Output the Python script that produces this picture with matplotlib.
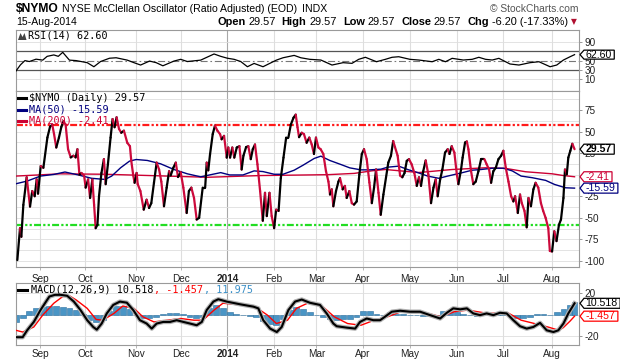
import matplotlib
matplotlib.use("Agg")
import matplotlib.pyplot as plt
import matplotlib.patheffects as pe
import numpy as np
from matplotlib.collections import LineCollection
from matplotlib.patches import Polygon

plt.rcParams['font.family'] = ['Liberation Sans', 'DejaVu Sans']
plt.rcParams['axes.unicode_minus'] = False
plt.rcParams['lines.scale_dashes'] = False

# x = trading day index (0 = 16-Aug-2013 ... 251 = 15-Aug-2014)
month_days = [11, 31, 54, 74, 95, 116, 135, 156, 177, 198, 219, 241]
month_labels = ['Sep', 'Oct', 'Nov', 'Dec', '2014', 'Feb', 'Mar', 'Apr', 'May', 'Jun', 'Jul', 'Aug']

nymo_days = [
    0.6, 1.8, 2.4, 3.3, 4.8, 6.3, 7.3, 8.4, 9.3, 9.9,
    11.1, 12.3, 14.1, 15.3, 16.3, 17.1, 18.1, 19.3, 20.4, 21.3,
    22.3, 23.4, 24.6, 25.8, 26.8, 27.6, 28.5, 29.4, 30.6, 31.3,
    32.4, 33.3, 34.3, 35.1, 35.8, 36.6, 37.3, 38.4, 39.5, 40.3,
    41.3, 42.5, 43.4, 44.3, 45.2, 46.3, 47.3, 48.5, 50.0, 51.2,
    51.8, 52.7, 53.3, 54.2, 54.7, 55.9, 57.4, 58.7, 59.8, 60.8,
    62.0, 63.2, 64.3, 65.3, 66.5, 67.7, 68.8, 69.5, 70.7, 71.8,
    72.8, 74.0, 75.2, 76.7, 77.7, 78.8, 80.0, 81.2, 82.3, 83.9,
    85.0, 85.7, 86.4, 87.2, 88.4, 89.4, 90.5, 91.7, 92.4, 93.5,
    94.7, 95.4, 96.2, 97.2, 98.1, 99.2, 100.4, 101.4, 102.2, 103.4,
    104.4, 105.5, 106.4, 107.4, 108.5, 109.7, 110.9, 111.9, 112.7, 113.9,
    114.9, 116.0, 116.9, 118.0, 119.0, 120.2, 121.4, 122.4, 123.5, 124.7,
    125.7, 126.5, 127.2, 128.4, 129.4, 130.6, 131.8, 132.9, 133.9, 134.8,
    135.9, 136.9, 138.1, 139.3, 140.4, 141.1, 141.9, 142.6, 143.8, 144.9,
    145.6, 146.8, 147.8, 148.6, 149.8, 150.9, 151.9, 153.1, 154.3, 155.4,
    156.4, 157.6, 158.8, 159.9, 160.9, 161.8, 162.9, 163.9, 165.1, 167.3,
    168.5, 169.5, 170.3, 171.5, 172.6, 173.6, 174.6, 175.6, 176.6, 177.8,
    179.0, 180.1, 181.1, 182.0, 183.0, 184.1, 185.3, 186.5, 187.6, 188.6,
    189.5, 190.6, 191.6, 192.8, 194.0, 194.8, 195.8, 197.0, 198.1, 198.8,
    200.0, 200.7, 201.8, 202.6, 203.3, 204.5, 205.5, 206.6, 207.8, 209.0,
    210.5, 211.5, 212.6, 213.5, 214.5, 215.6, 216.8, 218.0, 219.0, 220.1,
    221.3, 222.5, 223.5, 224.3, 225.5, 226.5, 227.3, 228.5, 229.5, 230.3,
    231.4, 232.5, 233.5, 234.7, 235.9, 236.9, 238.0, 239.2, 239.9, 240.9,
    241.9, 242.9, 244.0, 244.9, 246.0, 246.7, 247.5, 248.2, 249.1, 250.0,
    251.0]
nymo_vals = [
    -99, -62, -72, -35, -3, -37, -19, -25, -5.5, -22,
    10, 8, 43, 55.6, 58, 47, 31.5, 43, 55.6, 62,
    58, 29.5, 20, 22, 20, 29.5, 0, 2, -1, -15,
    -5.5, -27, -5.5, -35, -62, -58, -25, 2, 18, -11,
    12, 43, 64.5, 55, 66.5, 53, 48.6, 51, 37, 33,
    16, -1, -9.4, 2, -11, -19, -40.5, -29, -38.6, -33,
    -9.4, 14, 6, -8, -36.6, -15, 4, -1, 8, 14,
    -2.7, 3, -15, -44.4, -19, -15, -27, -52, -50, -15,
    -15, 14, 5, 23.7, 47, 56.8, 51, 47, 41, 45,
    19.8, 31.5, 19.8, 31.5, 19.8, 31.5, 33, 6, 22, 32,
    33, 18, 29.5, 35, 12, -19, -53.4, -21, -48, -21,
    -48, -62, -40.5, -42, -4, 19.8, 43, 43, 58, 66,
    69.6, 55, 43.5, 48.6, 47, 37, 43, 35, 24, 43,
    31.5, 29.5, 24, 4, -8, -23, -17, -36.6, -19, -8,
    -4, -17, -13, -27, -19, -33, -34.7, -31, 0.3, 24,
    29.5, 18, -9, -33, -15, 6, -21, -46.5, -23, 14,
    22, 39, 32, 22, -1, -3, 2, 16, 18, 12,
    2, -13, -3, -13, 4, 16.5, 0.3, -33, -15, -5.5,
    -25, -5.5, 6, 25.6, 29.5, 24, 33, 25.6, 0.3, -11,
    6, 19.8, 37.3, 38.5, 29.5, 4, -11, -8, 4, 18,
    18, 12, 6, -9.4, 4, 8, 18, 22, 27.7, 8,
    -8, -25, -31, -25, -44.4, -23, -33, -42, -61, -27,
    -36.6, -17, -9.4, -15, -33, -42, -50, -62, -88.4, -89,
    -65.6, -77, -58, -52, -27, 6, 0.3, 19.8, 27.7, 35.8,
    29.57]

ma50_days = [0, 5, 11, 17, 22, 28, 34, 40, 43, 47, 51, 54, 59, 65, 71, 77, 83, 87,
             92, 96, 102, 107, 111, 116, 120, 125, 129, 134, 137, 141, 146, 150,
             155, 159, 164, 167, 172, 176, 181, 185, 190, 194, 200, 205, 209, 214,
             219, 223, 227, 232, 238, 242, 247, 251]
ma50_vals = [-10.5, -7.4, -1.6, 0.3, 3.1, -0.3, -4.2, -5.5, -1.6, 8, 15.7, 17.6, 16.5,
             12.6, 6, 1, -2.5, -0.3, 2.4, -0.3, -0.3, 4.4, 3.6, 0.5, 0.5, 5.2, 11,
             18.8, 21.5, 16.5, 11.8, 7.9, 5.6, 5.6, 6.4, 8.7, 9.9, 6, 2, -1.6, -4.2,
             -1.6, 2, 5.2, 6, 7.5, 7.5, 4.4, -1.6, -3.5, -6.6, -11.3, -15.2, -15.59]

ma200_days = [0, 20, 40, 60, 86, 110, 140, 152, 160, 166, 181, 196, 211, 220, 229, 241, 246, 251]
ma200_vals = [-1.6, 1, 0.5, -1, -3, -1, 0, 1.5, 4.5, 6, 2.5, 6, 8, 7.3, 3.4, 1, -1, -2.41]

rsi_days = [0, 2, 4, 6, 9, 12, 14, 17, 19, 21, 24, 27, 32, 35, 38, 42, 45, 50, 53, 56,
            60, 63, 66, 71, 74, 77, 83, 89, 92, 95, 98, 101, 104, 107, 111, 114, 117,
            120, 125, 128, 132, 137, 142, 147, 151, 154, 157, 162, 166, 169, 172, 177,
            181, 187, 190, 193, 196, 201, 205, 208, 211, 214, 217, 222, 226, 231, 235,
            240, 243, 246, 249, 251]
rsi_vals = [28, 41, 50, 48, 53, 51, 59, 62, 59, 67.5, 51, 50, 45.6, 37, 48, 55, 56, 51,
            45.6, 40.6, 49, 45.6, 39, 49, 52.7, 48, 51, 64, 59, 55, 52.7, 48, 37, 44, 37,
            44, 51, 56, 61, 56, 52.7, 51.2, 40.6, 45.6, 44.2, 52.7, 57, 47.6, 52.7, 57,
            58.2, 52.7, 51.2, 47.6, 52.7, 47.6, 54.8, 51.2, 52.7, 57, 52.7, 51.2, 54.8,
            42.8, 40.6, 45.6, 47.6, 37, 40.6, 51.2, 58.2, 62.6]

macd_days = [0, 3, 5, 8, 11, 14, 15, 17.5, 20, 23, 26, 29, 32, 34.7, 36.3, 38.5, 40.8,
             43.7, 46.7, 49.8, 52.7, 55.7, 58.7, 61, 63.2, 66.2, 69.2, 72.2, 75.2, 78.2,
             81.2, 83.5, 85.7, 88.7, 90.9, 94.7, 100.7, 106.7, 108.9, 111.1, 114.2, 117.2,
             119.4, 122.4, 125.4, 128.4, 132.1, 136.6, 139.6, 142.6, 144.1, 148.6, 152.4,
             154.6, 157.6, 160.6, 163.6, 165.8, 168.9, 172.6, 177.1, 181.6, 186.1, 190.6,
             193.6, 196.5, 199.6, 202.6, 205.5, 208.5, 211.5, 214.5, 217.5, 220.5, 223.5,
             226.5, 229.5, 232.5, 235.5, 238.5, 241.5, 243.7, 246, 248.2, 251]
macd_vals = [-21, -21, -14.6, -6.8, 4.2, 13.7, 16.8, 18.4, 18.4, 17.5, 12.1, 4.2, -5.2,
             -11.5, -14, -8.3, 1.1, 9, 12.1, 11.1, 4.2, -5.2, -8.3, -13, -8.3, -6.8, -6.8,
             -5.2, -6.8, -8.3, -9.9, -6.8, 4.2, 12.1, 14.3, 12.1, 9.6, 7.4, 5.8, -5.2, -13,
             -16.2, -11.5, 4.2, 12.1, 14, 11, 9, 1.1, -8.3, -10.8, -12.1, -13, -6.8, -3.6,
             -5.2, -5.2, -2, 2.7, 3.6, 2.7, 2.7, -0.5, -3.6, 1.7, 5.8, 4.9, 5.8, 1.1, -0.5,
             1.1, -0.5, 1.7, 1.1, -5.2, -10.8, -13, -11.5, -7.7, -14.6, -16.2, -14.6, -8.3,
             1.1, 10.518]

signal_days = [0, 3, 8, 12, 17, 21, 24, 27, 32, 36, 39, 44, 48, 53, 57, 62, 68, 74, 80,
               84, 89, 93, 101, 107, 113, 117, 122, 126, 131, 137, 143, 149, 155, 161,
               167, 173, 182, 191, 197, 203, 212, 221, 227, 233, 239, 244, 246, 249, 251]
signal_vals = [-14.6, -16.2, -11.5, -0.5, 10.6, 16.8, 17.5, 13.7, 5.8, -4.5, -5.2, 1.1, 8,
               5.8, -2, -6.8, -5.2, -3.6, -5.2, -5.2, 4.2, 10.6, 9, 8, -0.5, -8.3, -5.2,
               5.8, 10.6, 9, -2, -8.3, -9.9, -5.2, -2, 2.7, 2.7, -2, 2.7, 4.2, 1.1, 1.7,
               -5.2, -8.3, -11.5, -14.6, -12, -6, -1.457]

hist_days = [0, 3, 6, 9, 12, 15, 18, 21, 24, 27, 30, 33, 36, 39, 42, 45, 48, 51, 54, 57,
             60, 63, 66, 69, 72, 75, 78, 81, 84, 87, 90, 93, 96, 99, 102, 105, 108, 111,
             114, 117, 120, 123, 126, 129, 132, 135, 138, 141, 144, 147, 150, 153, 156,
             159, 162, 165, 168, 171, 174, 177, 180, 183, 186, 189, 192, 195, 198, 201,
             204, 207, 210, 213, 216, 219, 222, 225, 228, 231, 234, 237, 240, 243, 246,
             249, 251]
hist_vals = [-7, -3, 3, 6, 7, 8, 8, 7, 6, 4, 1, -5, -7, -5, 3, 8, 8, 5, 0, -3, -3, -2, 1,
             1.5, 1.5, 1, -2, -3, -2, 6, 9, 6, 2, 1, 0, -1, -2, -6, -9, -10, -4, 4, 7, 5,
             2, 0, -2, -4, -5, -4, -4, -2, 3, 3, 1, 0, 2, 1, 1, 0, 0, -1, -1, -2, 3, 3, 2,
             1, 0, -1, 0, 1, 1, 1, -1, -3, -3, -2, 1, 1, 0, 2, 5, 9, 11.975]

W, H = 620, 360
UP, DOWN = '#000000', '#cc0a3c'
NAVY, CRIMSON = '#00007f', '#cc0033'
GRID = '#dedede'
MONO = 'DejaVu Sans Mono'

fig = plt.figure(figsize=(W / 100, H / 100), dpi=100)


def box(x0, y0, x1, y1):
    return [x0 / W, 1 - y1 / H, (x1 - x0) / W, (y1 - y0) / H]


ax_rsi = fig.add_axes(box(16, 30, 579, 91))
ax = fig.add_axes(box(16, 91, 579, 267))
ax_macd = fig.add_axes(box(16, 283, 579, 344.5))

for a in (ax_rsi, ax, ax_macd):
    a.set_xlim(0, 253)
    for s in a.spines.values():
        s.set_color('#9a9a9a')
        s.set_linewidth(0.8)
    a.yaxis.tick_right()
    a.tick_params(axis='y', length=2.5, width=0.6, color='#888888', pad=1.5,
                  labelsize=7.2, labelcolor='#222222')
    a.tick_params(axis='x', length=2, width=0.6, color='#aaaaaa', labelsize=7.2,
                  labelcolor='#222222', pad=3)
    a.set_xticks(month_days)
    for d, lab in zip(month_days, month_labels):
        a.axvline(d, color='#a8a8a8' if lab == '2014' else GRID, lw=0.8, zorder=0)

for a in (ax, ax_macd):
    a.set_xticklabels(month_labels)
    for t in a.get_xticklabels():
        if t.get_text() == '2014':
            t.set_fontweight('bold')
ax_rsi.tick_params(axis='x', labelbottom=False, length=0)
ax_macd.tick_params(axis='x', pad=1.5)

# ---- RSI panel
ax_rsi.set_ylim(-14.4, 114.8)
ax_rsi.set_yticks([10, 30, 50, 90])
for v in (10, 90):
    ax_rsi.axhline(v, color=GRID, lw=0.6, zorder=0)
ax_rsi.axhline(70, color='#555555', lw=0.9, zorder=1)
ax_rsi.axhline(30, color='#555555', lw=0.9, zorder=1)
ax_rsi.axhline(50, color='#777777', lw=0.8, dashes=(5, 2, 1.2, 2), zorder=1)
ax_rsi.plot(rsi_days, rsi_vals, color='black', lw=0.9, zorder=3)

# ---- main panel
ax.set_ylim(-107, 97)
ax.set_yticks([-100, -75, -50, -25, 25, 50, 75])
for v in np.arange(-100, 90, 12.5):
    ax.axhline(v, color=GRID, lw=0.6, zorder=0)
ax.axhline(57.5, color='#ff1a1a', lw=1.6, dashes=(5, 1.6, 1.6, 1.6, 1.6, 1.6), zorder=2)
ax.axhline(-58, color='#22dd22', lw=1.6, dashes=(5, 1.6, 1.6, 1.6, 1.6, 1.6), zorder=2)
ax.plot(ma200_days, ma200_vals, color=CRIMSON, lw=1.0, zorder=3)
ax.plot(ma50_days, ma50_vals, color=NAVY, lw=1.0, zorder=3)
x = np.array(nymo_days)
y = np.array(nymo_vals)
segs = np.stack([np.column_stack([x[:-1], y[:-1]]), np.column_stack([x[1:], y[1:]])], axis=1)
cols = [UP if d >= 0 else DOWN for d in np.diff(y)]
ax.add_collection(LineCollection(segs, colors=cols, linewidths=1.6, capstyle='round',
                                 joinstyle='round', zorder=4))

# ---- MACD panel
ax_macd.set_ylim(-27.8, 29.4)
ax_macd.set_yticks([-20, 20])
for v in (-20, 0, 20):
    ax_macd.axhline(v, color=GRID, lw=0.6, zorder=0)
ax_macd.bar(hist_days, hist_vals, width=2.6, color='#4a95c5', edgecolor='#2a6f9f',
            linewidth=0.4, zorder=2)
ax_macd.plot(signal_days, signal_vals, color='#ff0000', lw=1.0, zorder=3)
ax_macd.plot(macd_days, macd_vals, color='black', lw=1.5, zorder=4,
             path_effects=[pe.Stroke(linewidth=3.2, foreground='#b0b0b0'), pe.Normal()])

# ---- header texts
renderer = fig.canvas.get_renderer()


def run(x0, y0, parts):
    xx = x0
    for s, kw, gap in parts:
        t = fig.text(xx / W, 1 - y0 / H, s, va='center', ha='left', parse_math=False, **kw)
        xx += t.get_window_extent(renderer=renderer).width + gap
    return xx


run(16, 9, [('$NYMO', dict(fontsize=8.7, fontweight='bold'), 3.5),
            ('NYSE McClellan Oscillator (Ratio Adjusted) (EOD)', dict(fontsize=7.6), 4.5),
            ('INDX', dict(fontsize=7.6), 0)])
fig.text(578 / W, 1 - 9 / H, '\u00a9 StockCharts.com', ha='right', va='center',
         fontsize=7.4, color='#555555')
fig.text(16 / W, 1 - 22 / H, '15-Aug-2014', ha='left', va='center', fontsize=7.6)
b = dict(fontsize=7.9, fontweight='bold')
n = dict(fontsize=7.9)
run(217, 22, [('Open', b, 3), ('29.57', n, 6), ('High', b, 3), ('29.57', n, 6),
              ('Low', b, 3), ('29.57', n, 6), ('Close', b, 3), ('29.57', n, 6),
              ('Chg', b, 3), ('-6.20 (-17.33%)', n, 3),
              ('\u25bc', dict(fontsize=5.5, color='#b01030', family='DejaVu Sans'), 0)])

# ---- panel legends
fig.patches.append(Polygon(np.array([[18, 40], [20.5, 33], [22.5, 37], [24.5, 33], [26.5, 40]])
                           / [W, H] * [1, -1] + [0, 1], closed=True, fc='#444444', ec='none',
                           transform=fig.transFigure, figure=fig))
fig.text(28 / W, 1 - 36 / H, 'RSI(14) 62.60', fontsize=7.3, family=MONO, va='center')

for yy, s, c in ((98, '$NYMO (Daily) 29.57', 'black'),
                 (109.5, 'MA(50) -15.59', NAVY),
                 (120.7, 'MA(200) -2.41', CRIMSON)):
    fig.lines.append(plt.Line2D([18 / W, 26 / W], [1 - yy / H] * 2, color=c, lw=2.2,
                                transform=fig.transFigure, figure=fig))
    fig.text(29 / W, 1 - yy / H, s, fontsize=7.3, family=MONO, color=c, va='center',
             parse_math=False)

fig.lines.append(plt.Line2D([18 / W, 27 / W], [1 - 290 / H] * 2, color='black', lw=2.2,
                            transform=fig.transFigure, figure=fig))
run(31, 290, [('MACD(12,26,9) 10.518', dict(fontsize=7.3, family=MONO), 0.5),
              (', -1.457', dict(fontsize=7.3, family=MONO, color='#ff0000'), 0.5),
              (', 11.975', dict(fontsize=7.3, family=MONO, color='#3a8fc7'), 0)])


# ---- value tags on the right axis
def tag(a, val, s, ec, tc, weight='normal', h=10):
    X, Y = a.get_yaxis_transform().transform((1.0, val))
    tip = X + 1
    t = fig.text((tip + 5.5) / W, Y / H, s, ha='left', va='center', fontsize=7.6,
                 color=tc, fontweight=weight, zorder=21)
    w = t.get_window_extent(renderer=renderer).width + 4
    pts = np.array([[tip, Y], [tip + 4, Y + h / 2], [tip + 4 + w, Y + h / 2],
                    [tip + 4 + w, Y - h / 2], [tip + 4, Y - h / 2]])
    fig.patches.append(Polygon(pts / [W, H], closed=True, fc='white', ec=ec, lw=0.9,
                               transform=fig.transFigure, figure=fig, zorder=20))


tag(ax_rsi, rsi_vals[-1], '%.2f' % rsi_vals[-1], 'black', 'black', h=9)
tag(ax, nymo_vals[-1], '%.2f' % nymo_vals[-1], 'black', 'black', weight='bold')
tag(ax, ma200_vals[-1], '%.2f' % ma200_vals[-1], CRIMSON, CRIMSON)
tag(ax, ma50_vals[-1], '%.2f' % ma50_vals[-1], NAVY, NAVY)
tag(ax_macd, macd_vals[-1], '%.3f' % macd_vals[-1], 'black', 'black')
tag(ax_macd, signal_vals[-1], '%.3f' % signal_vals[-1], '#ff0000', '#ff0000')

fig.savefig('out.png', dpi=100)
